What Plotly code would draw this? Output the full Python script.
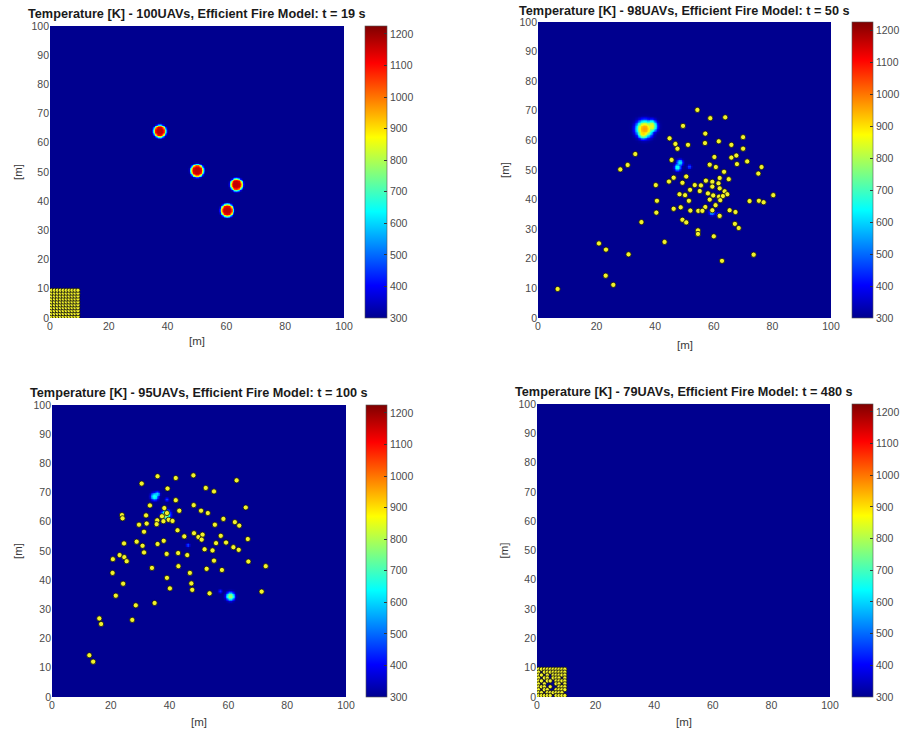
import numpy as np
import plotly.graph_objects as go

W, H = 904, 738

# ---------------- data ----------------
titles = [
    "Temperature [K] - 100UAVs, Efficient Fire Model: t = 19 s",
    "Temperature [K] - 98UAVs, Efficient Fire Model: t = 50 s",
    "Temperature [K] - 95UAVs, Efficient Fire Model: t = 100 s",
    "Temperature [K] - 79UAVs, Efficient Fire Model: t = 480 s",
]
x_ticks = [0, 20, 40, 60, 80, 100]
y_ticks = [0, 10, 20, 30, 40, 50, 60, 70, 80, 90, 100]
cbar_ticks = [300, 400, 500, 600, 700, 800, 900, 1000, 1100, 1200]
T_min, T_max = 300, 1225

# UAV start formation (10 x 10 block)
grid_pos = [0.5, 1.5, 2.5, 3.5, 4.5, 5.5, 6.5, 7.5, 8.5, 9.5]
# panel 4 formation occupancy, rows from top (y=9.5) to bottom (y=0.5)
p4_rows = [
    "##########",
    "#.########",
    "##.#.#####",
    "#.##.###.#",
    "##.##.####",
    "#.#...##.#",
    "###.#..###",
    "#.##..####",
    "##.######.",
    "#####.####",
]

# panel 2 UAVs (t = 50 s)
p2_x = [54.4, 58.8, 63.9, 49.5, 57.1, 70.0, 44.9, 46.9, 47.6, 51.2, 57.0, 61.7, 66.0, 70.0,
        33.2, 60.2, 66.0, 67.7, 71.4, 67.9, 45.6, 30.6, 28.1, 58.6, 60.7, 76.3, 75.2, 63.5,
        46.3, 50.6, 44.7, 49.3, 62.0, 65.1, 40.2, 57.3, 59.5, 61.6, 53.5, 55.6, 51.9, 55.2,
        59.5, 62.0, 63.7, 48.3, 50.2, 64.6, 61.8, 63.1, 80.3, 40.6, 51.5, 58.6, 62.2, 72.2,
        75.4, 77.0, 46.3, 48.7, 57.1, 60.6, 40.4, 52.0, 54.7, 56.1, 59.5, 62.0, 65.4, 67.4,
        35.3, 49.3, 50.6, 67.2, 68.5, 54.6, 54.6, 60.0, 43.2, 20.8, 23.2, 30.9, 73.6, 62.8,
        23.1, 25.7, 6.7, 58.0, 59.8]
p2_y = [70.3, 67.5, 67.8, 64.9, 62.3, 61.1, 60.7, 58.8, 57.2, 58.5, 59.1, 59.7, 58.5, 57.2,
        55.4, 54.4, 54.2, 54.9, 52.9, 52.0, 53.4, 51.7, 50.2, 51.8, 51.0, 51.0, 48.8, 49.4,
        47.4, 47.8, 46.1, 45.7, 47.3, 46.9, 44.9, 46.4, 46.0, 45.5, 44.9, 44.8, 43.3, 42.9,
        44.4, 43.8, 42.8, 41.8, 41.5, 41.8, 41.0, 41.2, 41.5, 39.6, 39.6, 40.0, 39.8, 39.5,
        39.6, 39.1, 36.9, 37.4, 37.5, 38.1, 35.6, 36.3, 36.2, 36.2, 36.4, 34.5, 36.4, 35.8,
        32.4, 33.2, 32.3, 31.8, 30.4, 29.6, 28.4, 27.6, 25.7, 25.2, 23.1, 21.5, 21.4, 19.3,
        14.3, 11.2, 9.8, 42.1, 41.4]

# panel 3 UAVs (t = 100 s)
p3_x = [35.9, 42.1, 48.1, 30.5, 62.8, 39.3, 52.3, 55.1, 42.1, 48.2, 65.9, 50.7, 53.0, 43.3,
        23.8, 24.0, 32.0, 38.2, 39.1, 37.4, 39.7, 35.8, 37.9, 41.0, 35.6, 32.2, 29.6, 31.3,
        42.7, 48.3, 55.4, 58.3, 62.2, 63.7, 45.0, 49.8, 51.2, 50.9, 57.4, 66.6, 24.5, 28.8,
        30.8, 31.3, 35.9, 38.0, 55.8, 59.2, 51.9, 54.6, 61.7, 63.5, 23.0, 24.6, 20.7, 25.4,
        39.0, 42.9, 46.0, 55.1, 66.8, 72.7, 34.0, 43.0, 52.6, 57.8, 20.6, 46.9, 39.1, 24.2,
        47.4, 40.1, 47.7, 53.6, 71.3, 21.7, 28.5, 34.9, 27.3, 16.1, 16.7, 33.3, 12.7, 14.0]
p3_y = [75.6, 75.0, 75.9, 73.1, 74.2, 71.4, 71.6, 70.4, 67.4, 65.7, 64.9, 63.8, 63.0, 63.8,
        62.3, 61.2, 62.2, 64.7, 63.0, 61.9, 60.7, 60.5, 60.2, 60.3, 59.2, 59.4, 59.0, 56.6,
        57.1, 56.1, 59.0, 61.0, 59.9, 58.7, 55.0, 54.8, 55.6, 53.9, 55.2, 54.1, 52.6, 53.2,
        51.8, 49.5, 52.4, 53.5, 52.7, 52.9, 50.6, 50.2, 51.3, 50.4, 48.6, 47.9, 47.2, 46.5,
        49.0, 49.3, 48.6, 46.7, 46.4, 44.8, 44.2, 44.8, 43.9, 43.5, 42.5, 42.5, 40.8, 38.8,
        38.9, 37.2, 36.7, 35.5, 36.1, 34.7, 31.4, 32.2, 26.4, 26.9, 25.0, 65.6, 14.3, 12.1]

# fire hot spots per panel: centre x, centre y, radius [m], peak temperature [K]
f1_x = [37.2, 49.9, 63.3, 60.1]
f1_y = [64.1, 50.6, 45.8, 37.0]
f1_r = [2.2, 2.2, 2.2, 2.2]
f1_T = [1165, 1165, 1165, 1165]

f2_x = [36.2, 38.5, 35.8, 47.5, 48.3, 51.5, 50.6, 59.2, 61.5]
f2_y = [64.0, 64.9, 62.7, 51.0, 52.6, 51.2, 48.3, 35.8, 35.0]
f2_r = [2.9, 2.1, 2.0, 1.2, 1.1, 0.7, 0.6, 1.0, 0.8]
f2_T = [960, 850, 910, 650, 620, 470, 440, 560, 520]

f3_x = [34.7, 35.6, 39.0, 46.1, 60.5, 57.1, 38.6]
f3_y = [68.8, 69.6, 67.8, 52.1, 34.6, 36.4, 62.6]
f3_r = [1.3, 0.9, 0.6, 0.7, 1.5, 0.6, 1.6]
f3_T = [660, 610, 480, 470, 780, 450, 820]

f4_x, f4_y, f4_r, f4_T = [], [], [], []

# ---------------- geometry (screen pixels) ----------------
axes_px = [  # left, right, top, bottom
    (50, 344, 26, 318),
    (538, 831, 22, 318),
    (52, 346, 405, 697),
    (537, 830, 404, 697),
]
cbar_px = [(365, 387), (852, 873), (366, 387), (852, 873)]
title_y = [14, 11, 393, 392]
xlab_y = [341, 345, 722, 722]
ylab_x = [18, 505, 18, 503]

JET = [
    [0.0, "rgb(0,0,143)"],
    [0.111, "rgb(0,0,255)"],
    [0.365, "rgb(0,255,255)"],
    [0.619, "rgb(255,255,0)"],
    [0.873, "rgb(255,0,0)"],
    [1.0, "rgb(128,0,0)"],
]

gx = np.arange(0.25, 100, 0.5)
gy = np.arange(0.25, 100, 0.5)
GX, GY = np.meshgrid(gx, gy)


def temp_field(fx, fy, fr, ft, p):
    Z = np.full(GX.shape, 300.0)
    for x0, y0, r, T in zip(fx, fy, fr, ft):
        d = np.hypot(GX - x0, GY - y0)
        Z = np.maximum(Z, 300 + (T - 300) * np.exp(-(d / r) ** p))
    return np.round(Z).astype(int)


fields = [
    temp_field(f1_x, f1_y, f1_r, f1_T, 6),
    temp_field(f2_x, f2_y, f2_r, f2_T, 3),
    temp_field(f3_x, f3_y, f3_r, f3_T, 3),
    temp_field(f4_x, f4_y, f4_r, f4_T, 3),
]

# UAV positions
g1x = [gx_ for gy_ in grid_pos for gx_ in grid_pos]
g1y = [gy_ for gy_ in grid_pos for gx_ in grid_pos]
g4x, g4y = [], []
for ri, row in enumerate(p4_rows):
    yv = grid_pos[len(grid_pos) - 1 - ri]
    for ci, ch in enumerate(row):
        if ch == "#":
            g4x.append(grid_pos[ci])
            g4y.append(yv)
uavs = [(g1x, g1y, 4.2), (p2_x, p2_y, 5.2), (p3_x, p3_y, 5.2), (g4x, g4y, 4.2)]


def px(v):
    return v / W


def py(v):
    return 1 - v / H


TICK_FONT = dict(family="Liberation Sans, Arial, sans-serif", size=10.5, color="#4a4a4a")

fig = go.Figure()
annotations = []
layout_axes = {}
for k in range(4):
    l, r, t, b = axes_px[k]
    sfx = "" if k == 0 else str(k + 1)
    xa, ya = "x" + sfx, "y" + sfx
    cl, cr = cbar_px[k]
    fig.add_trace(go.Heatmap(
        x=gx, y=gy, z=fields[k], colorscale=JET, zmin=T_min, zmax=T_max,
        zsmooth="best", xaxis=xa, yaxis=ya, hoverinfo="skip",
        colorbar=dict(
            x=px(cl), xanchor="left", y=py(b), yanchor="bottom",
            len=(b - t) / H, lenmode="fraction",
            thickness=cr - cl, thicknessmode="pixels", xpad=0, ypad=0,
            outlinewidth=0.6, outlinecolor="#555555",
            tickvals=cbar_ticks, ticks="inside", ticklen=3, tickcolor="#333333",
            tickfont=TICK_FONT,
        ),
    ))
    ux, uy, ms = uavs[k]
    fig.add_trace(go.Scatter(
        x=ux, y=uy, mode="markers", xaxis=xa, yaxis=ya, showlegend=False,
        hoverinfo="skip",
        marker=dict(size=ms, color="#f2f22a", line=dict(color="#111111", width=0.8)),
    ))
    layout_axes["xaxis" + sfx] = dict(
        domain=[px(l), px(r)], range=[0, 100], anchor=ya, tickvals=x_ticks,
        showgrid=False, zeroline=False, ticks="", showline=False,
        tickfont=TICK_FONT,
    )
    layout_axes["yaxis" + sfx] = dict(
        domain=[py(b), py(t)], range=[0, 100], anchor=xa, tickvals=y_ticks,
        showgrid=False, zeroline=False, ticks="", showline=False,
        tickfont=TICK_FONT,
    )
    annotations.append(dict(
        text="<b>" + titles[k] + "</b>", x=px((l + r) / 2), y=py(title_y[k]),
        xref="paper", yref="paper", xanchor="center", yanchor="middle", showarrow=False,
        font=dict(family="Liberation Sans, Arial, sans-serif", size=12.7, color="#1a1a1a"),
    ))
    annotations.append(dict(
        text="[m]", x=px((l + r) / 2), y=py(xlab_y[k]),
        xref="paper", yref="paper", xanchor="center", yanchor="middle", showarrow=False,
        font=dict(family="Liberation Sans, Arial, sans-serif", size=11.5, color="#3a3a3a"),
    ))
    annotations.append(dict(
        text="[m]", x=px(ylab_x[k]), y=py((t + b) / 2), textangle=-90,
        xref="paper", yref="paper", xanchor="center", yanchor="middle", showarrow=False,
        font=dict(family="Liberation Sans, Arial, sans-serif", size=11.5, color="#3a3a3a"),
    ))

fig.update_layout(
    width=W, height=H, margin=dict(l=0, r=0, t=0, b=0, autoexpand=False),
    paper_bgcolor="white", plot_bgcolor="white",
    annotations=annotations, showlegend=False, **layout_axes,
)

# remove the default 8 px page margin so the figure fills the 904x738 window
fig.write_html(
    "out.html",
    config={"displayModeBar": False},
    post_script="document.body.style.margin='0px';document.body.style.overflow='hidden';",
)
